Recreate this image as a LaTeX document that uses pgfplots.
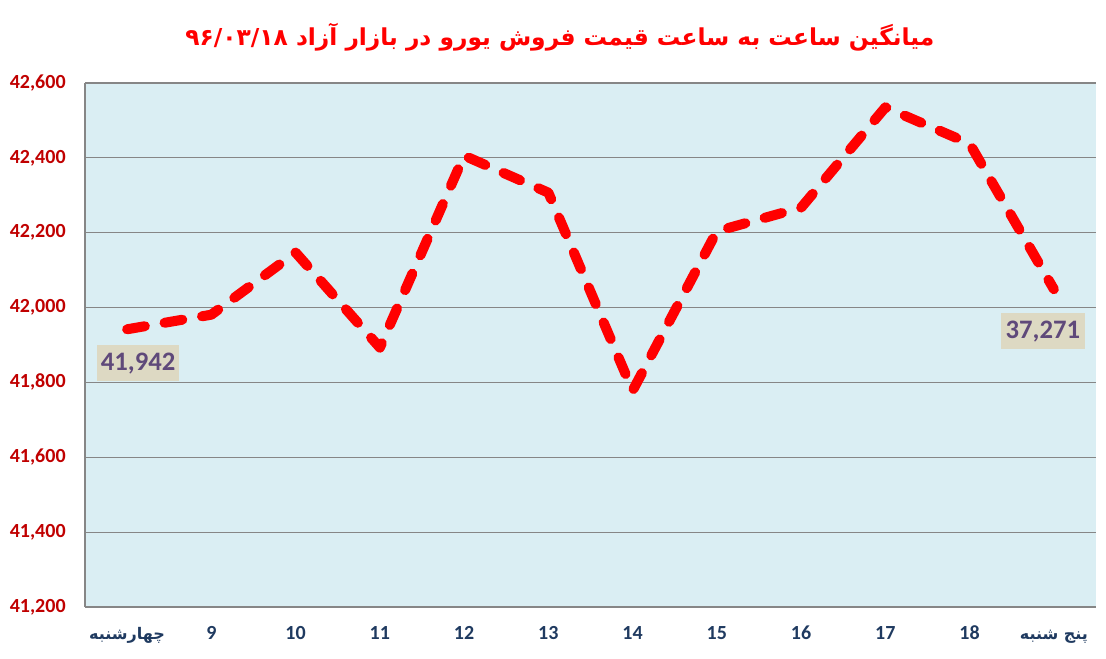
\documentclass[border=0pt]{standalone}
\usepackage{fontspec}
\usepackage{pgfplots}
\pgfplotsset{compat=1.18}
\setmainfont{Carlito}
\newfontfamily\arabicfont[Script=Arabic]{DejaVu Sans}
\TeXXeTstate=1
\definecolor{plotbg}{HTML}{DAEEF3}
\definecolor{gridgray}{HTML}{868686}
\definecolor{ticksred}{HTML}{C00000}
\definecolor{navy}{HTML}{1F3A60}
\definecolor{lblbox}{HTML}{DDD9C3}
\definecolor{lbltext}{HTML}{5F497A}
\definecolor{linered}{HTML}{FF0000}
\begin{document}
\begin{tikzpicture}
\path[use as bounding box] (0pt,0pt) rectangle (829.5pt,493.5pt);
\begin{axis}[
  at={(63.75pt,38.25pt)}, anchor=south west,
  scale only axis, width=758.25pt, height=393pt,
  xmin=-0.5, xmax=11.5, ymin=41200, ymax=42600,
  ytick={41200,41400,...,42600},
  xtick={0,...,11},
  xticklabels={{\arabicfont\fontsize{12}{14}\selectfont\beginR چهارشنبه\endR},9,10,11,12,13,14,15,16,17,18,{\arabicfont\fontsize{12}{14}\selectfont\beginR پنج شنبه\endR}},
  major tick length=0pt,
  axis x line*=bottom, axis y line*=left,
  axis line style={-, draw=gridgray, line width=0.9pt},
  ymajorgrids, grid style={draw=gridgray, line width=0.9pt},
  axis background/.style={fill=plotbg},
  scaled ticks=false,
  /pgf/number format/.cd, 1000 sep={,}, assume math mode=true,
  /pgfplots/.cd,
  yticklabel style={font=\bfseries\fontsize{15}{18}\selectfont, text=ticksred, xshift=-11pt},
  xticklabel style={font=\bfseries\fontsize{15}{18}\selectfont, text=navy, anchor=base, yshift=-24.2pt},
  clip=false,
]
\addplot[linered, line width=7.5pt, line cap=round, line join=round, dash pattern=on 13.5pt off 15pt]
  coordinates {(0,41942) (1,41981) (2,42147) (3,41893) (4,42406) (5,42307) (6,41778) (7,42204) (8,42267) (9,42535) (10,42438) (11,42049)};
\node[fill=lblbox, text=lbltext, font=\bfseries\fontsize{20}{22}\selectfont, minimum width=62pt, minimum height=27pt, inner sep=0pt] at ([xshift=8.25pt,yshift=-25.5pt]axis cs:0,41942) {41,942};
\node[fill=lblbox, text=lbltext, font=\bfseries\fontsize{20}{22}\selectfont, minimum width=63pt, minimum height=27pt, inner sep=0pt] at ([xshift=-8.25pt,yshift=-31.5pt]axis cs:11,42049) {37,271};
\end{axis}
\node[text=red, font=\arabicfont\bfseries\fontsize{17.5}{22}\selectfont] at (420pt,465.75pt) {\beginR میانگین ساعت به ساعت قیمت فروش یورو در بازار آزاد \beginL۹۶/۰۳/۱۸\endL\endR};
\end{tikzpicture}
\end{document}
